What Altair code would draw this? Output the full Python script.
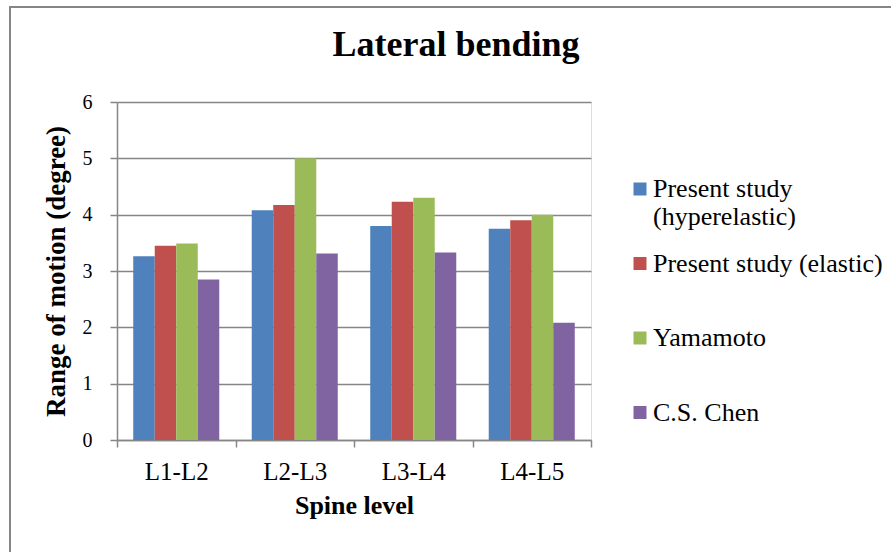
import altair as alt
import pandas as pd

levels = ["L1-L2", "L2-L3", "L3-L4", "L4-L5"]
series = ["Present study (hyperelastic)", "Present study (elastic)", "Yamamoto", "C.S. Chen"]
hyperelastic = [3.26, 4.08, 3.80, 3.75]
elastic = [3.45, 4.17, 4.23, 3.90]
yamamoto = [3.49, 5.00, 4.30, 4.00]
chen = [2.85, 3.31, 3.33, 2.08]
colors = ["#4F81BD", "#C0504D", "#9BBB59", "#8064A2"]
y_ticks = [0, 1, 2, 3, 4, 5, 6]

rows = []
for s, vals in zip(series, [hyperelastic, elastic, yamamoto, chen]):
    for lv, v in zip(levels, vals):
        rows.append({"level": lv, "series": s, "value": v})
df = pd.DataFrame(rows)

FONT = "Liberation Serif"
GRAY = "#868686"

bars = alt.Chart(df).mark_bar().encode(
    x=alt.X("level:N", sort=levels, title="Spine level",
            scale=alt.Scale(paddingInner=0, paddingOuter=0),
            axis=alt.Axis(labelAngle=0, tickBand="extent", labelFontSize=25,
                          labelFont=FONT, labelColor="#000000", labelPadding=12,
                          titleFont=FONT, titleFontSize=26, titleFontWeight="bold",
                          titleColor="#000000", titlePadding=8,
                          domainColor=GRAY, domainWidth=1.5, tickColor=GRAY,
                          tickWidth=1.5, tickSize=7, grid=False)),
    xOffset=alt.XOffset("series:N", sort=series,
                        scale=alt.Scale(paddingInner=0, paddingOuter=0.755)),
    y=alt.Y("value:Q", title="Range of motion (degree)",
            scale=alt.Scale(domain=[0, 6], nice=False),
            axis=alt.Axis(values=y_ticks, format="d", labelFontSize=20,
                          labelFont=FONT, labelColor="#000000", labelPadding=18,
                          titleFont=FONT, titleFontSize=27, titleFontWeight="bold",
                          titleColor="#000000", titlePadding=12,
                          domainColor=GRAY, domainWidth=1.5, tickColor=GRAY,
                          tickWidth=1.5, tickSize=7, grid=True, gridColor=GRAY,
                          gridWidth=1.5)),
    color=alt.Color("series:N", sort=series,
                    scale=alt.Scale(domain=series, range=colors),
                    legend=alt.Legend(
                        title=None, orient="none", legendX=510, legendY=74,
                        symbolType="square", symbolSize=169, symbolStrokeWidth=0,
                        labelFont=FONT, labelFontSize=26, labelColor="#000000",
                        labelLimit=400, labelOffset=0, rowPadding=20.5,
                        gridAlign="all", padding=0,
                        labelExpr="datum.label == 'Present study (hyperelastic)' ? ['Present study', '(hyperelastic)'] : datum.label")),
)

frame = alt.Chart(alt.Data(values=[{"k": 1}])).mark_rect(
    fill="transparent", stroke=GRAY, strokeWidth=2
).encode(
    x=alt.value(-107), x2=alt.value(1000), y=alt.value(-95), y2=alt.value(1000)
)

chart = alt.layer(frame, bars).properties(
    width=474, height=338,
    padding={"left": 117, "top": 102, "right": 300, "bottom": 112},
    autosize=alt.AutoSizeParams(type="none"),
    title=alt.TitleParams("Lateral bending", font=FONT, fontSize=36,
                          fontWeight="bold", color="#000000", anchor="middle",
                          frame="group", dx=102, offset=-86, baseline="alphabetic"),
).configure_view(strokeWidth=0).configure(
    background="#ffffff", font=FONT
).configure_legend(labelFont=FONT).configure_axis(labelFont=FONT, titleFont=FONT)

chart.save("out.html", embed_options={"renderer": "svg", "actions": False})
